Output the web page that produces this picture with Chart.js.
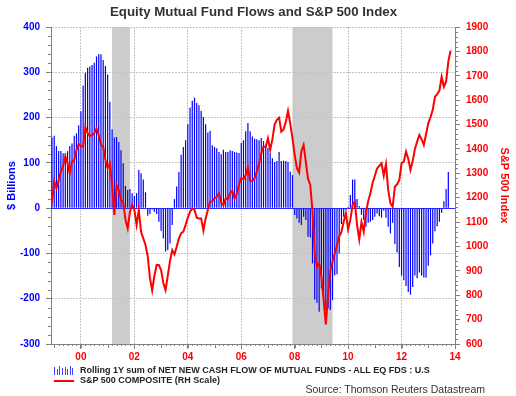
<!DOCTYPE html>
<html><head><meta charset="utf-8">
<script src="https://cdn.jsdelivr.net/npm/chart.js@4.4.1/dist/chart.umd.min.js"></script>
<style>
html,body{margin:0;padding:0;background:#fff;}
#wrap{position:relative;width:516px;height:396px;font-family:"Liberation Sans",Arial,sans-serif;overflow:hidden;}
#c{position:absolute;left:0;top:0;}
.t{position:absolute;white-space:nowrap;color:#222;}
</style></head><body>
<div id="wrap">
<canvas id="c" width="516" height="396"></canvas>
<div class="t" style="left:0;width:507px;top:4px;text-align:center;font-weight:bold;font-size:13.3px;line-height:16px;color:#333">Equity Mutual Fund Flows and S&amp;P 500 Index</div>
<svg class="t" style="left:54px;top:365px" width="20" height="10"><g fill="#4040ff"><rect x="0" y="2" width="1" height="8"/><rect x="3" y="4" width="1" height="6"/><rect x="5" y="1" width="1" height="9"/><rect x="8" y="3" width="1" height="7"/><rect x="11" y="2" width="1" height="8"/><rect x="13" y="4" width="1" height="6"/><rect x="16" y="1" width="1" height="9"/><rect x="18" y="3" width="1" height="7"/></g></svg>
<div class="t" style="left:80px;top:365px;font-size:9px;font-weight:bold;line-height:11px;color:#222">Rolling 1Y sum of NET NEW CASH FLOW OF MUTUAL FUNDS - ALL EQ FDS : U.S</div>
<div class="t" style="left:54px;top:380px;width:20px;height:2px;background:#ff0000"></div>
<div class="t" style="left:80px;top:375px;font-size:9px;font-weight:bold;line-height:11px;color:#222">S&amp;P 500 COMPOSITE (RH Scale)</div>
<div class="t" style="right:31px;top:383px;font-size:10.5px;line-height:12px;color:#333">Source: Thomson Reuters Datastream</div>
</div>
<script>
// ---- data ----
const startMonth = [1998, 12]; // first monthly observation (Dec 1998)
// rolling 1Y sum of net new cash flow, all equity funds, US ($ billions), monthly
const flows = [
156,160,137,126,126,121,121,126,137,143,
160,165,183,214,271,299,310,313,316,321,
335,340,340,327,314,295,235,174,156,157,
146,128,99,49,40,42,33,27,33,84,
77,63,35,-17,-13,-3,-8,-13,-30,-50,
-67,-96,-93,-78,-37,20,48,80,118,135,
150,185,222,237,244,232,227,215,201,185,
167,171,139,135,132,124,119,129,124,124,
128,126,124,123,122,144,150,170,188,170,
158,153,152,150,155,148,140,133,122,110,
102,104,124,104,105,104,102,81,73,-15,
-23,-32,-37,-19,-26,-63,-65,-122,-202,-209,
-229,-177,-207,-225,-221,-225,-203,-148,-146,-100,
-35,-19,-4,3,29,63,63,20,5,-15,
-26,-41,-32,-30,-26,-19,-12,-18,-21,-6,
-21,-41,-56,-32,-79,-98,-130,-149,-159,-172,
-185,-191,-174,-149,-155,-142,-149,-153,-153,-127,
-104,-78,-51,-40,-30,-10,15,42,80];
// S&P 500 composite, monthly
const spx = [
1179,1268,1238,1273,1307,1330,1370,1341,1300,1348,
1355,1396,1420,1412,1409,1490,1464,1453,1457,1464,
1485,1457,1416,1409,1355,1321,1341,1252,1129,1252,
1230,1191,1180,1110,1074,1140,1170,1150,1088,1150,
1060,1033,1006,960,870,820,880,924,924,903,
850,821,880,940,985,968,999,1033,1054,1061,
1088,1118,1143,1157,1150,1118,1115,1115,1065,1115,
1150,1184,1185,1197,1205,1218,1180,1170,1197,1195,
1218,1229,1197,1215,1255,1280,1275,1293,1323,1268,
1268,1280,1307,1340,1382,1409,1409,1444,1396,1440,
1501,1519,1528,1471,1480,1510,1556,1505,1444,1375,
1321,1303,1390,1416,1348,1277,1252,1143,972,917,
931,876,780,680,800,900,938,972,1006,1040,
1060,1101,1136,1070,1110,1170,1184,1090,1029,1100,
1060,1140,1185,1218,1260,1290,1320,1330,1341,1290,
1338,1232,1177,1163,1245,1255,1273,1341,1348,1389,
1360,1314,1350,1400,1430,1457,1440,1416,1460,1505,
1530,1560,1614,1625,1639,1696,1655,1676,1758,1803];
// recession periods (shaded)
const recessions = [['2001-03','2001-11'], ['2007-12','2009-06']];
const xTickYears = [2000,2002,2004,2006,2008,2010,2012,2014];
const xTickLabels = ['00','02','04','06','08','10','12','14'];

// ---- helpers ----
const ym = s => { const [y,m] = s.split('-').map(Number); return y + (m-1)/12; };
const monthX = i => startMonth[0] + (startMonth[1]-1)/12 + i/12;
const flowPts = flows.map((v,i)=>({x:monthX(i), y:v}));
const spxPts = spx.map((v,i)=>({x:monthX(i), y:v}));

Chart.defaults.font.family = '"Liberation Sans", Arial, sans-serif';

const decor = {
  id:'decor',
  beforeDraw(chart){
    const {ctx, chartArea:a, scales:{x}} = chart;
    ctx.save(); ctx.fillStyle = '#cccccc';
    recessions.forEach(([s,e])=>{
      const x1 = x.getPixelForValue(ym(s)), x2 = x.getPixelForValue(ym(e));
      ctx.fillRect(x1, a.top, x2-x1, a.bottom-a.top);
    });
    ctx.restore();
  },
  beforeDatasetsDraw(chart){
    const {ctx, chartArea:a, scales:{y}} = chart;
    const py = Math.round(y.getPixelForValue(0)) + 0.5;
    ctx.save(); ctx.strokeStyle = '#2a2aff'; ctx.lineWidth = 1;
    ctx.beginPath(); ctx.moveTo(a.left, py); ctx.lineTo(a.right, py); ctx.stroke();
    ctx.restore();
  },
  afterDraw(chart){
    const {ctx, chartArea:a, scales:{x,y,y2}} = chart;
    ctx.save(); ctx.strokeStyle = '#808080'; ctx.lineWidth = 1;
    ctx.beginPath();
    for (let v = -300; v <= 400; v += 20) {
      if (v % 100 === 0) continue;
      const p = Math.round(y.getPixelForValue(v)) + 0.5;
      ctx.moveTo(a.left, p); ctx.lineTo(a.left-3, p);
    }
    for (let v = 600; v <= 1900; v += 20) {
      if (v % 100 === 0) continue;
      const p = Math.round(y2.getPixelForValue(v)) + 0.5;
      ctx.moveTo(a.right, p); ctx.lineTo(a.right+3, p);
    }
    for (let k = 0; k <= 15*6; k++) {
      const v = 1999 + k/6;
      if (v > x.max + 1e-6) break;
      const p = Math.round(x.getPixelForValue(v)) + 0.5;
      ctx.moveTo(p, a.bottom); ctx.lineTo(p, a.bottom+ (k%6===0?4:2));
    }
    ctx.stroke();
    ctx.restore();
  }
};

new Chart(document.getElementById('c'), {
  type:'bar',
  data:{
    datasets:[
      { type:'line', label:'S&P 500 COMPOSITE (RH Scale)', data:spxPts, yAxisID:'y2', xAxisID:'x',
        borderColor:'#ff0000', borderWidth:2, pointRadius:0, tension:0, fill:false, order:0 },
      { type:'bar', label:'Rolling 1Y sum of NET NEW CASH FLOW OF MUTUAL FUNDS - ALL EQ FDS : U.S',
        data:flowPts, yAxisID:'y', xAxisID:'x', backgroundColor:'#0000ff', borderWidth:0,
        barThickness:1.2, inflateAmount:0, order:1 }
    ]
  },
  options:{
    responsive:false, animation:false, devicePixelRatio:1,
    layout:{ padding:{ top:27, bottom:30, left:0, right:0 } },
    plugins:{ legend:{display:false}, title:{display:false}, tooltip:{enabled:false} },
    scales:{
      x:{ type:'linear', position:'bottom', min:1998.88, max:2014, offset:false,
          afterBuildTicks: s => { s.ticks = xTickYears.map(v=>({value:v})); },
          afterFit: s => { s.height = 22; },
          ticks:{ color:'#ff0000', font:{size:10, weight:'bold'}, padding:2, maxRotation:0, autoSkip:false,
                  callback:(v,i)=> xTickLabels[i] },
          grid:{ offset:false, color:'#c4c4c4', tickColor:'#808080', tickLength:5, drawOnChartArea:true },
          border:{ display:true, color:'#808080', dash:[2,1] } },
      y:{ type:'linear', position:'left', min:-300, max:400,
          afterFit: s => { s.width = 51; },
          ticks:{ stepSize:100, color:'#0000ff', font:{size:10, weight:'bold'}, padding:6, callback:v=>String(v) },
          grid:{ color: c => (c.tick && c.tick.value === 0) ? 'rgba(0,0,0,0)' : '#c4c4c4', tickColor:'#808080', tickLength:5 },
          border:{ display:true, color:'#808080', dash:[2,1] },
          title:{ display:true, text:'$ Billions', color:'#0000ff', font:{size:11, weight:'bold'}, padding:{top:5,bottom:0} } },
      y2:{ type:'linear', position:'right', min:600, max:1900,
          afterFit: s => { s.width = 61; },
          ticks:{ stepSize:100, color:'#ff0000', font:{size:10, weight:'bold'}, padding:6, callback:v=>String(v) },
          grid:{ drawOnChartArea:false, tickColor:'#808080', tickLength:5 },
          border:{ display:true, color:'#808080' },
          title:{ display:true, text:'S&P 500 Index', color:'#ff0000', font:{size:11, weight:'bold'}, padding:{top:5,bottom:0} } }
    }
  },
  plugins:[decor]
});
</script>
</body></html>
